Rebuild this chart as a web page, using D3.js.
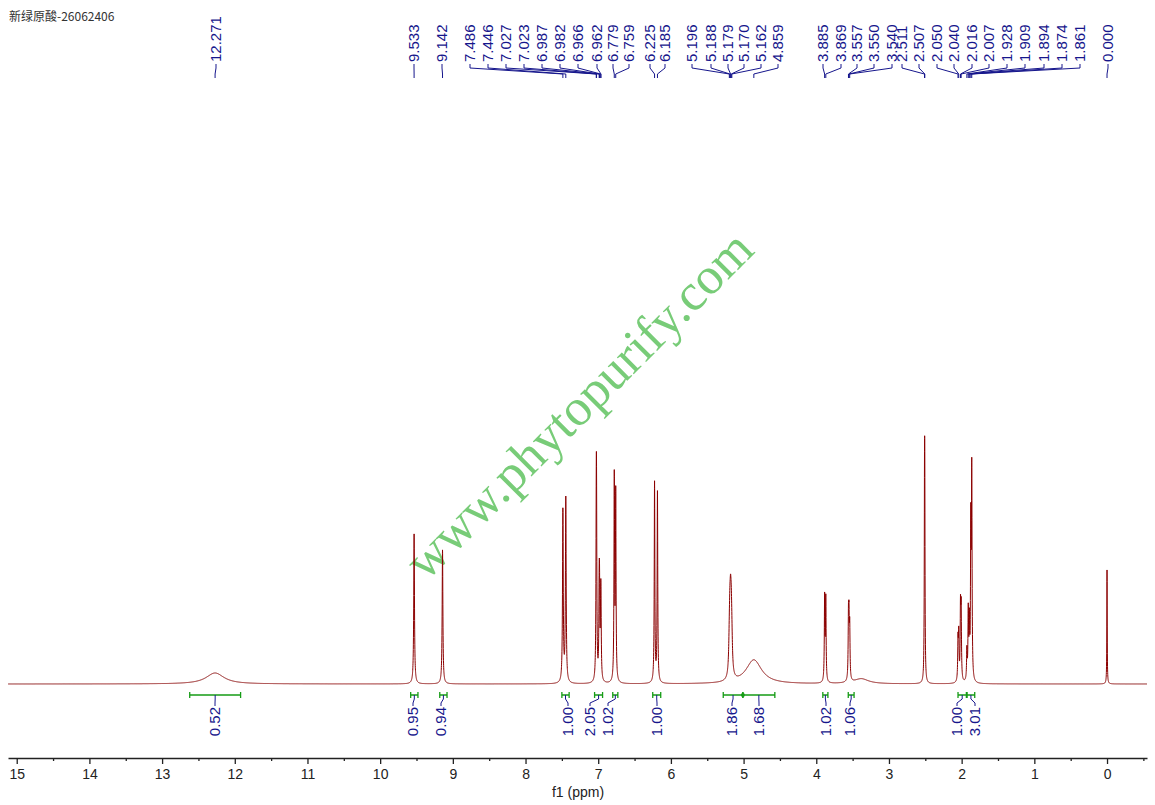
<!doctype html>
<html>
  <head>
    <meta charset="utf-8">
    <script src="https://cdn.jsdelivr.net/npm/d3@7"></script>
    <style>
      body { margin: 0; background: #fff; }
      text { font-family: "Liberation Sans", Arial, sans-serif; }
    </style>
  </head>
  <body>
    <script>
    // spectrum peaks: position (ppm), intensity (a.u.), half width (ppm)
    var peakPpm    = [12.271, 9.533, 9.142, 7.486, 7.446, 7.027, 7.023, 6.987, 6.982, 6.966, 6.962,
                      6.779, 6.759, 6.225, 6.185, 5.196, 5.188, 5.179, 5.170, 5.162, 4.859,
                      3.885, 3.869, 3.557, 3.550, 3.540, 3.38, 2.511, 2.507,
                      2.050, 2.040, 2.016, 2.007, 1.928, 1.909, 1.894, 1.874, 1.861, 0.000];
    var peakHeight = [11, 150, 134, 172, 184, 133, 133, 72, 72, 55, 55,
                      203, 186, 200, 190, 24, 41, 49, 41, 24, 24,
                      84, 82, 58, 52, 50, 5, 155, 155,
                      40, 45, 70, 68, 30, 68, 55, 150, 205, 114];
    var peakWidth  = [0.15, 0.006, 0.006, 0.006, 0.006, 0.005, 0.005, 0.005, 0.005, 0.005, 0.005,
                      0.005, 0.005, 0.005, 0.005, 0.01, 0.01, 0.01, 0.01, 0.01, 0.13,
                      0.005, 0.005, 0.005, 0.005, 0.005, 0.12, 0.004, 0.004,
                      0.005, 0.005, 0.005, 0.005, 0.005, 0.005, 0.005, 0.005, 0.005, 0.003];

    // picked peak labels
    var labelPpm = [12.271, 9.533, 9.142, 7.486, 7.446, 7.027, 7.023, 6.987, 6.982, 6.966, 6.962,
                    6.779, 6.759, 6.225, 6.185, 5.196, 5.188, 5.179, 5.170, 5.162, 4.859,
                    3.885, 3.869, 3.557, 3.550, 3.540, 2.511, 2.507, 2.050, 2.040, 2.016, 2.007,
                    1.928, 1.909, 1.894, 1.874, 1.861, 0.000];

    // integrals
    var integralFrom  = [12.62, 9.58, 9.18, 7.50, 7.05, 6.80, 6.25, 5.28, 5.01, 3.91, 3.56, 2.05, 1.925];
    var integralTo    = [11.92, 9.48, 9.08, 7.40, 6.94, 6.73, 6.14, 5.01, 4.57, 3.84, 3.48, 1.935, 1.82];
    var integralValue = [0.52, 0.95, 0.94, 1.00, 2.05, 1.02, 1.00, 1.86, 1.68, 1.02, 1.06, 1.00, 3.01];

    var majorTicks = [15, 14, 13, 12, 11, 10, 9, 8, 7, 6, 5, 4, 3, 2, 1, 0];
    var minorTicks = [14.5, 13.5, 12.5, 11.5, 10.5, 9.5, 8.5, 7.5, 6.5, 5.5, 4.5, 3.5, 2.5, 1.5, 0.5, -0.5];

    // layout of the spread-out labels (pixels)
    var labelSlotX = [216, 414, 442, 470, 488, 506, 524, 542, 560, 578, 597, 613, 629, 650, 665,
                      692, 711, 728, 744, 761, 778, 823, 841, 857, 874, 892, 902, 919, 937, 954,
                      972, 989, 1007, 1025, 1044, 1062, 1080, 1108];
    var integralSlotX = [215, 413, 441, 568, 590, 608, 657, 732, 759, 826, 850, 957, 975];

    var width = 1155;
    var height = 805;
    var baseY = 684;
    var axisY = 758;
    var navy = '#16168c';
    var green = '#169c16';

    var svg = d3.select('body')
              .append('svg')
              .attr('width', width)
              .attr('height', height);

    var x = d3.scaleLinear()
              .domain([15.12, -0.55])
              .range([8, 1147]);

    var y = d3.scaleLinear()
              .domain([0, 250])
              .range([baseY, baseY - 250]);

    // title
    svg.append('text')
      .attr('x', 9)
      .attr('y', 21)
      .attr('font-size', '12px')
      .attr('fill', '#333')
      .style('font-family', '"Noto Sans CJK SC", sans-serif')
      .text('新绿原酸-26062406');

    // watermark
    svg.append('text')
      .attr('transform', 'translate(426,582) rotate(-45)')
      .style('font-family', '"Liberation Serif", serif')
      .attr('font-size', '52px')
      .attr('fill', '#78cc78')
      .text('www.phytopurify.com');

    // spectrum: sum of lorentzian lines
    var grid = d3.range(-0.55, 15.12, 0.001).concat(peakPpm).sort(d3.ascending);
    var spectrum = grid.map(function(p) {
      var s = 0;
      for (var i = 0; i < peakPpm.length; i++) {
        var w = peakWidth[i], d = p - peakPpm[i];
        s += peakHeight[i] * w * w / (w * w + d * d);
      }
      return {ppm: p, val: s};
    });

    var line = d3.line()
              .x(function(d) { return x(d.ppm); })
              .y(function(d) { return y(d.val); });

    svg.append('path')
      .datum(spectrum)
      .attr('fill', 'none')
      .attr('stroke', '#8b0000')
      .attr('stroke-width', 1)
      .attr('d', line);

    // peak labels
    var labels = svg.append('g');
    labelPpm.forEach(function(p, i) {
      var lx = labelSlotX[i], px = x(p);
      labels.append('path')
        .attr('d', 'M' + lx + ',64V68L' + px + ',74V78')
        .attr('fill', 'none')
        .attr('stroke', navy)
        .attr('stroke-width', 1);
      labels.append('text')
        .attr('transform', 'translate(' + lx + ',62) rotate(-90)')
        .attr('dy', '0.35em')
        .attr('font-size', '15px')
        .attr('fill', navy)
        .text(p.toFixed(3));
    });

    // integrals
    var integ = svg.append('g');
    integralValue.forEach(function(v, i) {
      var x0 = x(integralFrom[i]), x1 = x(integralTo[i]);
      var xc = (x0 + x1) / 2, lx = integralSlotX[i];
      integ.append('path')
        .attr('d', 'M' + x0 + ',695H' + x1 + 'M' + x0 + ',692V698M' + x1 + ',692V698')
        .attr('fill', 'none')
        .attr('stroke', green)
        .attr('stroke-width', 1.3);
      integ.append('path')
        .attr('d', 'M' + xc + ',695V699L' + lx + ',703V706')
        .attr('fill', 'none')
        .attr('stroke', navy)
        .attr('stroke-width', 1);
      integ.append('text')
        .attr('transform', 'translate(' + lx + ',707) rotate(-90)')
        .attr('dy', '0.35em')
        .attr('text-anchor', 'end')
        .attr('font-size', '15px')
        .attr('fill', navy)
        .text(v.toFixed(2));
      if (i > 0 && integralTo[i - 1] === integralFrom[i]) {
        integ.append('circle')
          .attr('cx', x0).attr('cy', 695).attr('r', 2)
          .attr('fill', green);
      }
    });

    // x axis
    var xAxis = d3.axisBottom(x)
              .tickValues(majorTicks)
              .tickSize(6)
              .tickSizeOuter(0)
              .tickPadding(5)
              .tickFormat(d3.format('d'));

    var ax = svg.append('g')
      .attr('transform', 'translate(0,' + axisY + ')')
      .call(xAxis);
    ax.selectAll('text')
      .attr('font-size', '14px')
      .attr('fill', '#222')
      .style('font-family', '"Liberation Sans", Arial, sans-serif');
    ax.select('.domain').attr('stroke', '#222').attr('stroke-width', 1.3);
    ax.selectAll('.tick line').attr('stroke', '#222').attr('stroke-width', 1.3);

    svg.append('g')
      .attr('transform', 'translate(0,' + axisY + ')')
      .call(d3.axisBottom(x).tickValues(minorTicks).tickSize(3).tickSizeOuter(0).tickFormat(''))
      .call(function(g) {
        g.select('.domain').remove();
        g.selectAll('.tick line').attr('stroke', '#222').attr('stroke-width', 1.3);
      });

    svg.append('text')
      .attr('x', 578)
      .attr('y', 797)
      .attr('text-anchor', 'middle')
      .attr('font-size', '14px')
      .attr('fill', '#222')
      .text('f1 (ppm)');
    </script>
  </body>
</html>
